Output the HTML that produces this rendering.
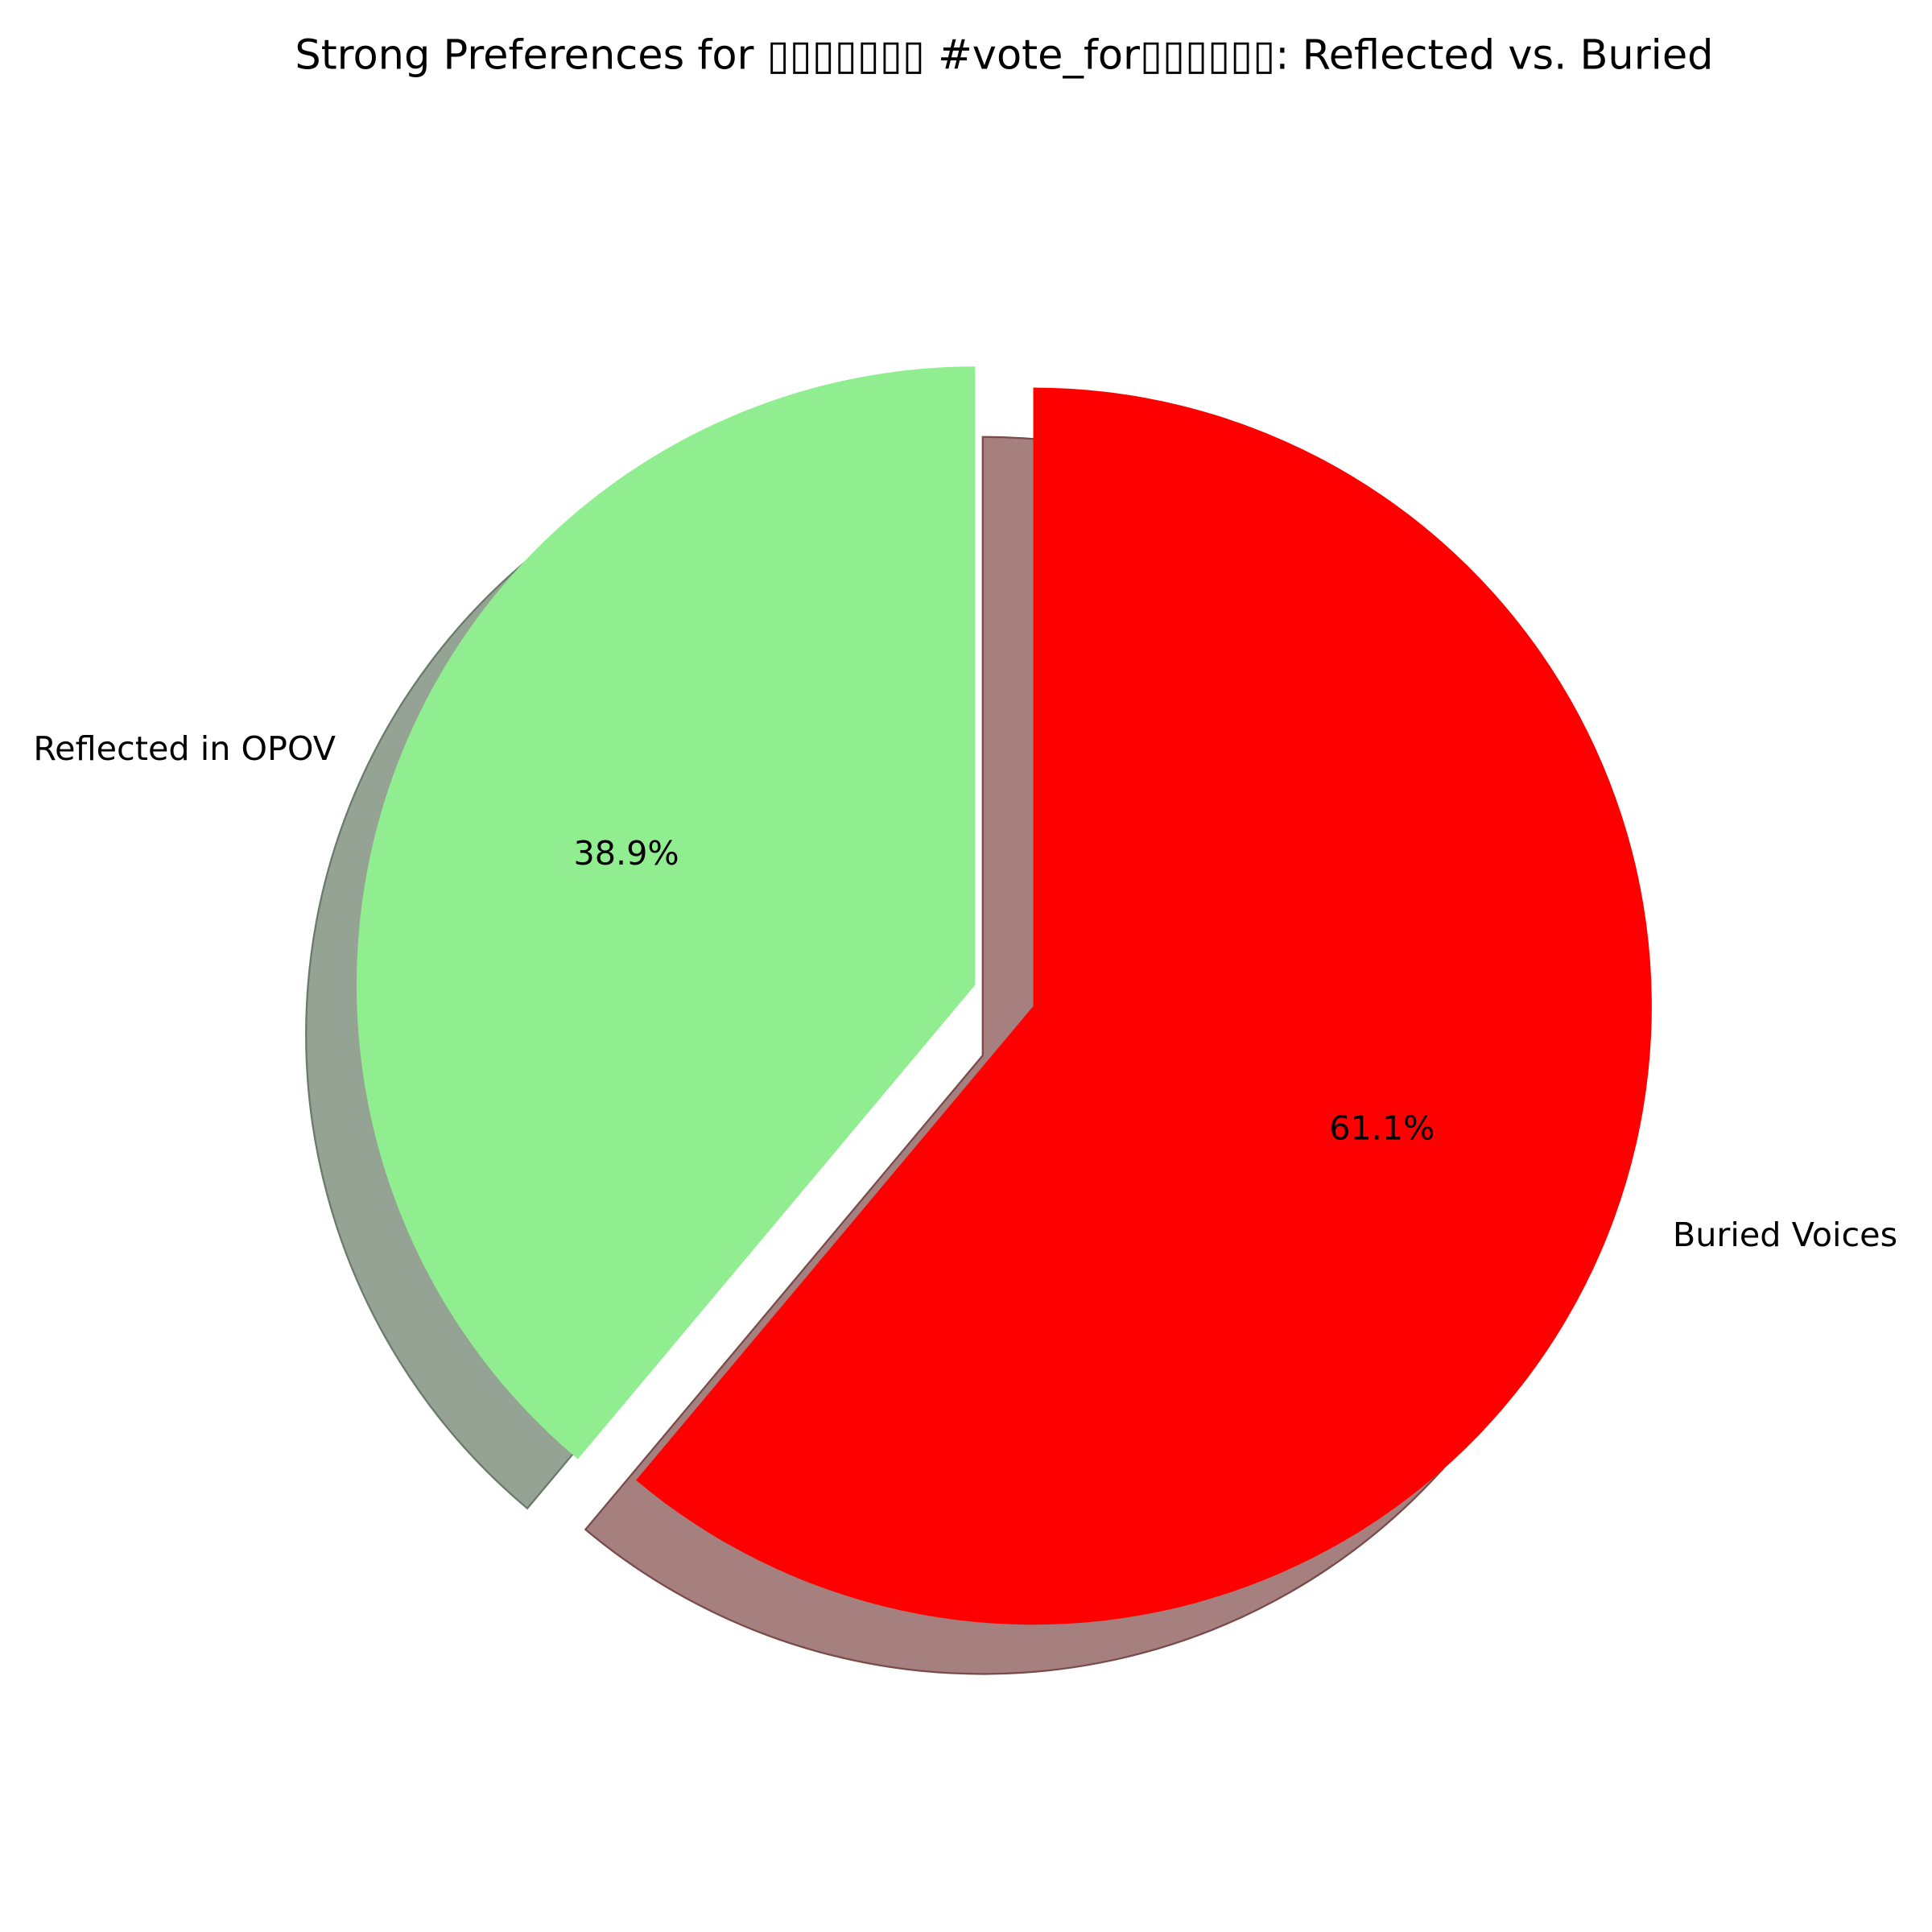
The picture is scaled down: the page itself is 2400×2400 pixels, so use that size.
<!DOCTYPE html>
<html><head><meta charset="utf-8"><style>
html,body{margin:0;padding:0;background:#fff;}
svg{display:block;}
</style></head><body>
<svg id="chart" width="2400" height="2400" viewBox="0 0 1568 1568" xmlns="http://www.w3.org/2000/svg" font-family="'DejaVu Sans','Liberation Sans',sans-serif">
<rect width="1568" height="1568" fill="#fff"/>
<text x="815" y="45" font-size="33.3" text-anchor="middle" dominant-baseline="central" fill="#000">Strong Preferences for ▯▯▯▯▯▯▯ #vote_for▯▯▯▯▯▯: Reflected vs. Buried</text>
<g id="shadows"></g>
<g id="wedges"></g>
<g id="labels"></g>
</svg>
<script>
const categories = ["Reflected in OPOV", "Buried Voices"];
const values = [38.9, 61.1];
const colors = ["#90ee90", "#ff0000"];
const shadowColors = ["#95a395", "#a67f7f"];
const shadowStrokes = ["#6b7b6b", "#7a4b4b"];
const explode = [0.05, 0.05];

const NS = "http://www.w3.org/2000/svg";
const cx = 815, cy = 808, R = 502, shX = -41, shY = 40;
const total = values.reduce((a, b) => a + b, 0);
function pt(x, y, r, a) { return [x + r * Math.cos(a), y - r * Math.sin(a)]; }
function wedgePath(x, y, a0, a1) {
  const p0 = pt(x, y, R, a0), p1 = pt(x, y, R, a1);
  const large = (a1 - a0) > Math.PI ? 1 : 0;
  return `M${x},${y} L${p0[0]},${p0[1]} A${R},${R} 0 ${large} 0 ${p1[0]},${p1[1]} Z`;
}
const shadowG = document.getElementById('shadows');
const wedgeG = document.getElementById('wedges');
const labelG = document.getElementById('labels');
let start = Math.PI / 2;
values.forEach((v, i) => {
  const sweep = v / total * 2 * Math.PI;
  const a0 = start, a1 = start + sweep, mid = (a0 + a1) / 2;
  const ox = cx + explode[i] * R * Math.cos(mid), oy = cy - explode[i] * R * Math.sin(mid);
  const sh = document.createElementNS(NS, 'path');
  sh.setAttribute('d', wedgePath(ox + shX, oy + shY, a0, a1));
  sh.setAttribute('fill', shadowColors[i]);
  sh.setAttribute('stroke', shadowStrokes[i]);
  sh.setAttribute('stroke-width', '1.5');
  
  
  shadowG.appendChild(sh);
  const w = document.createElementNS(NS, 'path');
  w.setAttribute('d', wedgePath(ox, oy, a0, a1));
  w.setAttribute('fill', colors[i]);
  
  
  wedgeG.appendChild(w);
  const pp = pt(ox, oy, R * 0.6, mid);
  const t = document.createElementNS(NS, 'text');
  t.setAttribute('x', pp[0]); t.setAttribute('y', pp[1] - 4);
  t.setAttribute('text-anchor', 'middle'); t.setAttribute('font-size', '27');
  t.setAttribute('dominant-baseline', 'central');
  t.textContent = v.toFixed(1) + '%';
  
  
  labelG.appendChild(t);
  const lp = pt(ox, oy, R * 1.1, mid);
  const c = document.createElementNS(NS, 'text');
  c.setAttribute('x', lp[0]); c.setAttribute('y', lp[1] - 3);
  c.setAttribute('text-anchor', Math.cos(mid) < 0 ? 'end' : 'start');
  c.setAttribute('font-size', '27');
  c.setAttribute('dominant-baseline', 'central');
  c.textContent = categories[i];
  
  
  labelG.appendChild(c);
  start = a1;
});
</script>
</body></html>
